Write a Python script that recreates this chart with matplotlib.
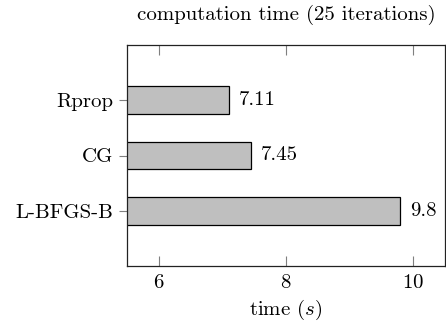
import matplotlib
matplotlib.use('Agg')
import matplotlib.pyplot as plt

# computation time per method, 25 iterations
methods = ['Rprop', 'CG', 'L-BFGS-B']
times = [7.11, 7.45, 9.8]
xticks = [6, 8, 10]

plt.rcParams['font.family'] = 'serif'
plt.rcParams['font.serif'] = ['cmr10']
plt.rcParams['mathtext.fontset'] = 'cm'
plt.rcParams['axes.formatter.use_mathtext'] = True
plt.rcParams['font.size'] = 15

fig = plt.figure(figsize=(4.46, 3.21), dpi=100)
ax = fig.add_axes([0.2848, 0.1713, 0.7130, 0.6885])

pos = list(range(len(methods)))[::-1]  # first method on top
bars = ax.barh(pos, times, height=0.5, color='#bfbfbf', edgecolor='black', linewidth=0.9)
for p, t in zip(pos, times):
    ax.annotate(str(t), (t, p), xytext=(7, 0), textcoords='offset points',
                va='center', ha='left')

ax.set_xlim(5.5, 10.5)
ax.set_ylim(-1, len(methods))
ax.set_xticks(xticks)
ax.set_yticks(pos)
ax.set_yticklabels(methods)

ax.tick_params(axis='x', direction='in', top=True, length=7, width=0.8, color='#7f7f7f', pad=6)
ax.tick_params(axis='y', direction='out', length=6, width=0.8, color='#7f7f7f', pad=4)
for s in ax.spines.values():
    s.set_linewidth(0.9)
    s.set_color('#222222')

ax.set_xlabel('time ($s$)', labelpad=4)
fig.text(0.641, 0.955, 'computation time (25 iterations)', ha='center', va='center')

fig.savefig('out.png', dpi=100)
